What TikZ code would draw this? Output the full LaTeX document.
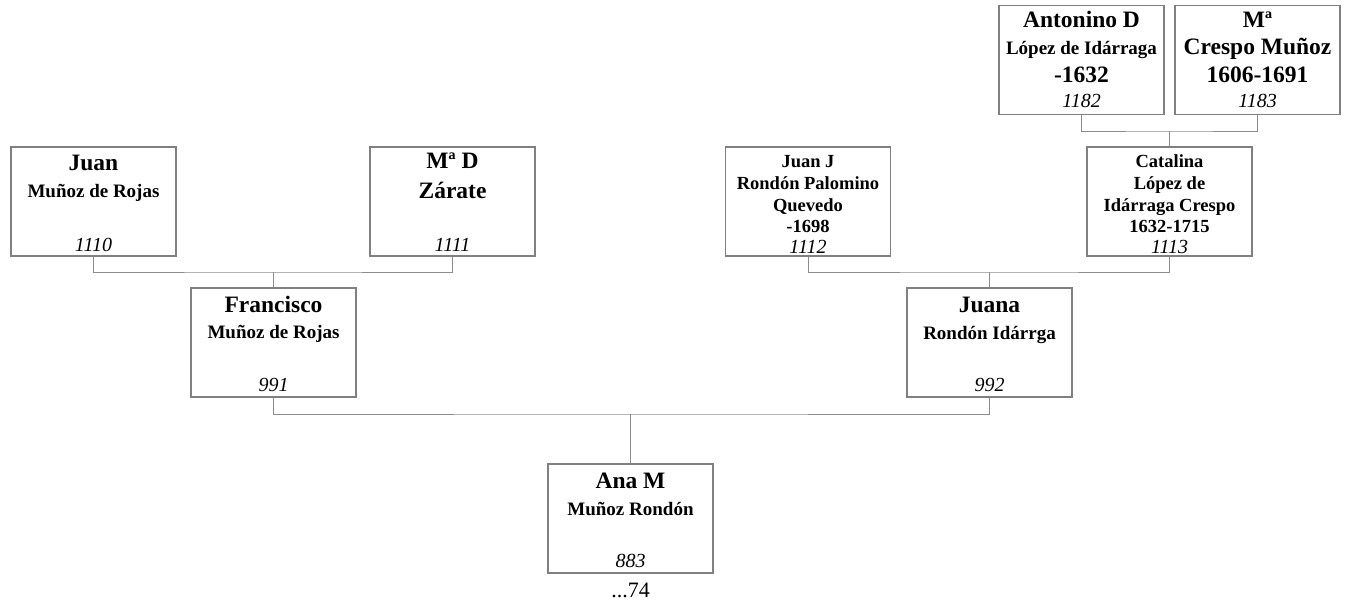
\documentclass[tikz,border=0pt]{standalone}
\usepackage{fontspec}
\setmainfont{Liberation Serif}
\definecolor{boxgray}{HTML}{808080}
\definecolor{linegray}{HTML}{8C8C8C}
\begin{document}
\begin{tikzpicture}[x=1pt,y=-1pt,
  box/.style={draw=boxgray, line width=1.3pt, rectangle, minimum width=165pt, minimum height=109pt, inner sep=0pt},
  link/.style={draw=linegray, line width=1pt},
  big/.style={font=\bfseries\fontsize{23.5}{28}\selectfont, inner sep=0pt, anchor=base},
  mid/.style={font=\bfseries\fontsize{19}{23}\selectfont, inner sep=0pt, anchor=base},
  sml/.style={font=\bfseries\fontsize{18.5}{22}\selectfont, inner sep=0pt, anchor=base},
  num/.style={font=\itshape\fontsize{20}{24}\selectfont, inner sep=0pt, anchor=base},
  gen/.style={font=\fontsize{22}{26}\selectfont, inner sep=0pt, anchor=base}]
\useasboundingbox (0,0) rectangle (1348,602);

% boxes
\node[box] (A1) at (1081.5,60) {};
\node[box] (A2) at (1257.5,60) {};
\node[box] (J1) at (93.5,201.5) {};
\node[box] (J2) at (452.5,201.5) {};
\node[box] (J3) at (808,201.5) {};
\node[box] (J4) at (1169.5,201.5) {};
\node[box] (F1) at (273.5,342.5) {};
\node[box] (F2) at (989.5,342.5) {};
\node[box] (AN) at (630.5,518.5) {};

% texts
\node[big] (A1a) at (1081.5,28) {Antonino D};
\node[mid] (A1b) at (1081.5,55) {López de Idárraga};
\node[big] (A1c) at (1081.5,82) {-1632};
\node[num] (A1d) at (1081.5,107) {1182};

\node[big] (A2a) at (1257.5,28) {Mª};
\node[big] (A2b) at (1257.5,55) {Crespo Muñoz};
\node[big] (A2c) at (1257.5,82) {1606-1691};
\node[num] (A2d) at (1257.5,107) {1183};

\node[big] (J1a) at (93.5,170) {Juan};
\node[mid] (J1b) at (93.5,197) {Muñoz de Rojas};
\node[num] (J1c) at (93.5,251) {1110};

\node[big] (J2a) at (452.5,168) {Mª D};
\node[big] (J2b) at (452.5,198) {Zárate};
\node[num] (J2c) at (452.5,251) {1111};

\node[sml] (J3a) at (808,167) {Juan J};
\node[sml] (J3b) at (808,189) {Rondón Palomino};
\node[sml] (J3c) at (808,211) {Quevedo};
\node[sml] (J3d) at (808,232) {-1698};
\node[num] (J3e) at (808,253) {1112};

\node[sml] (J4a) at (1169.5,167) {Catalina};
\node[sml] (J4b) at (1169.5,189) {López de};
\node[sml] (J4c) at (1169.5,211) {Idárraga Crespo};
\node[sml] (J4d) at (1169.5,232) {1632-1715};
\node[num] (J4e) at (1169.5,253) {1113};

\node[big] (F1a) at (273.5,312) {Francisco};
\node[mid] (F1b) at (273.5,338) {Muñoz de Rojas};
\node[num] (F1c) at (273.5,391) {991};

\node[big] (F2a) at (989.5,312) {Juana};
\node[mid] (F2b) at (989.5,339) {Rondón Idárrga};
\node[num] (F2c) at (989.5,391) {992};

\node[big] (ANa) at (630.5,488) {Ana M};
\node[mid] (ANb) at (630.5,515) {Muñoz Rondón};
\node[num] (ANc) at (630.5,567) {883};
\node[gen] (ANd) at (630.5,597) {...74};

% connectors
\coordinate (kF1) at (273.5,272);
\coordinate (kF2) at (989.5,272);
\coordinate (kJ4) at (1169.5,131);
\coordinate (kAN) at (630.5,414);
\draw[link] (J1.south) |- (kF1) -| (J2.south);
\draw[link] (kF1) -- (F1.north);
\draw[link] (J3.south) |- (kF2) -| (J4.south);
\draw[link] (kF2) -- (F2.north);
\draw[link] (A1.south) |- (kJ4) -| (A2.south);
\draw[link] (kJ4) -- (J4.north);
\draw[link] (F1.south) |- (kAN) -| (F2.south);
\draw[link] (kAN) -- (AN.north);
\end{tikzpicture}
\end{document}
